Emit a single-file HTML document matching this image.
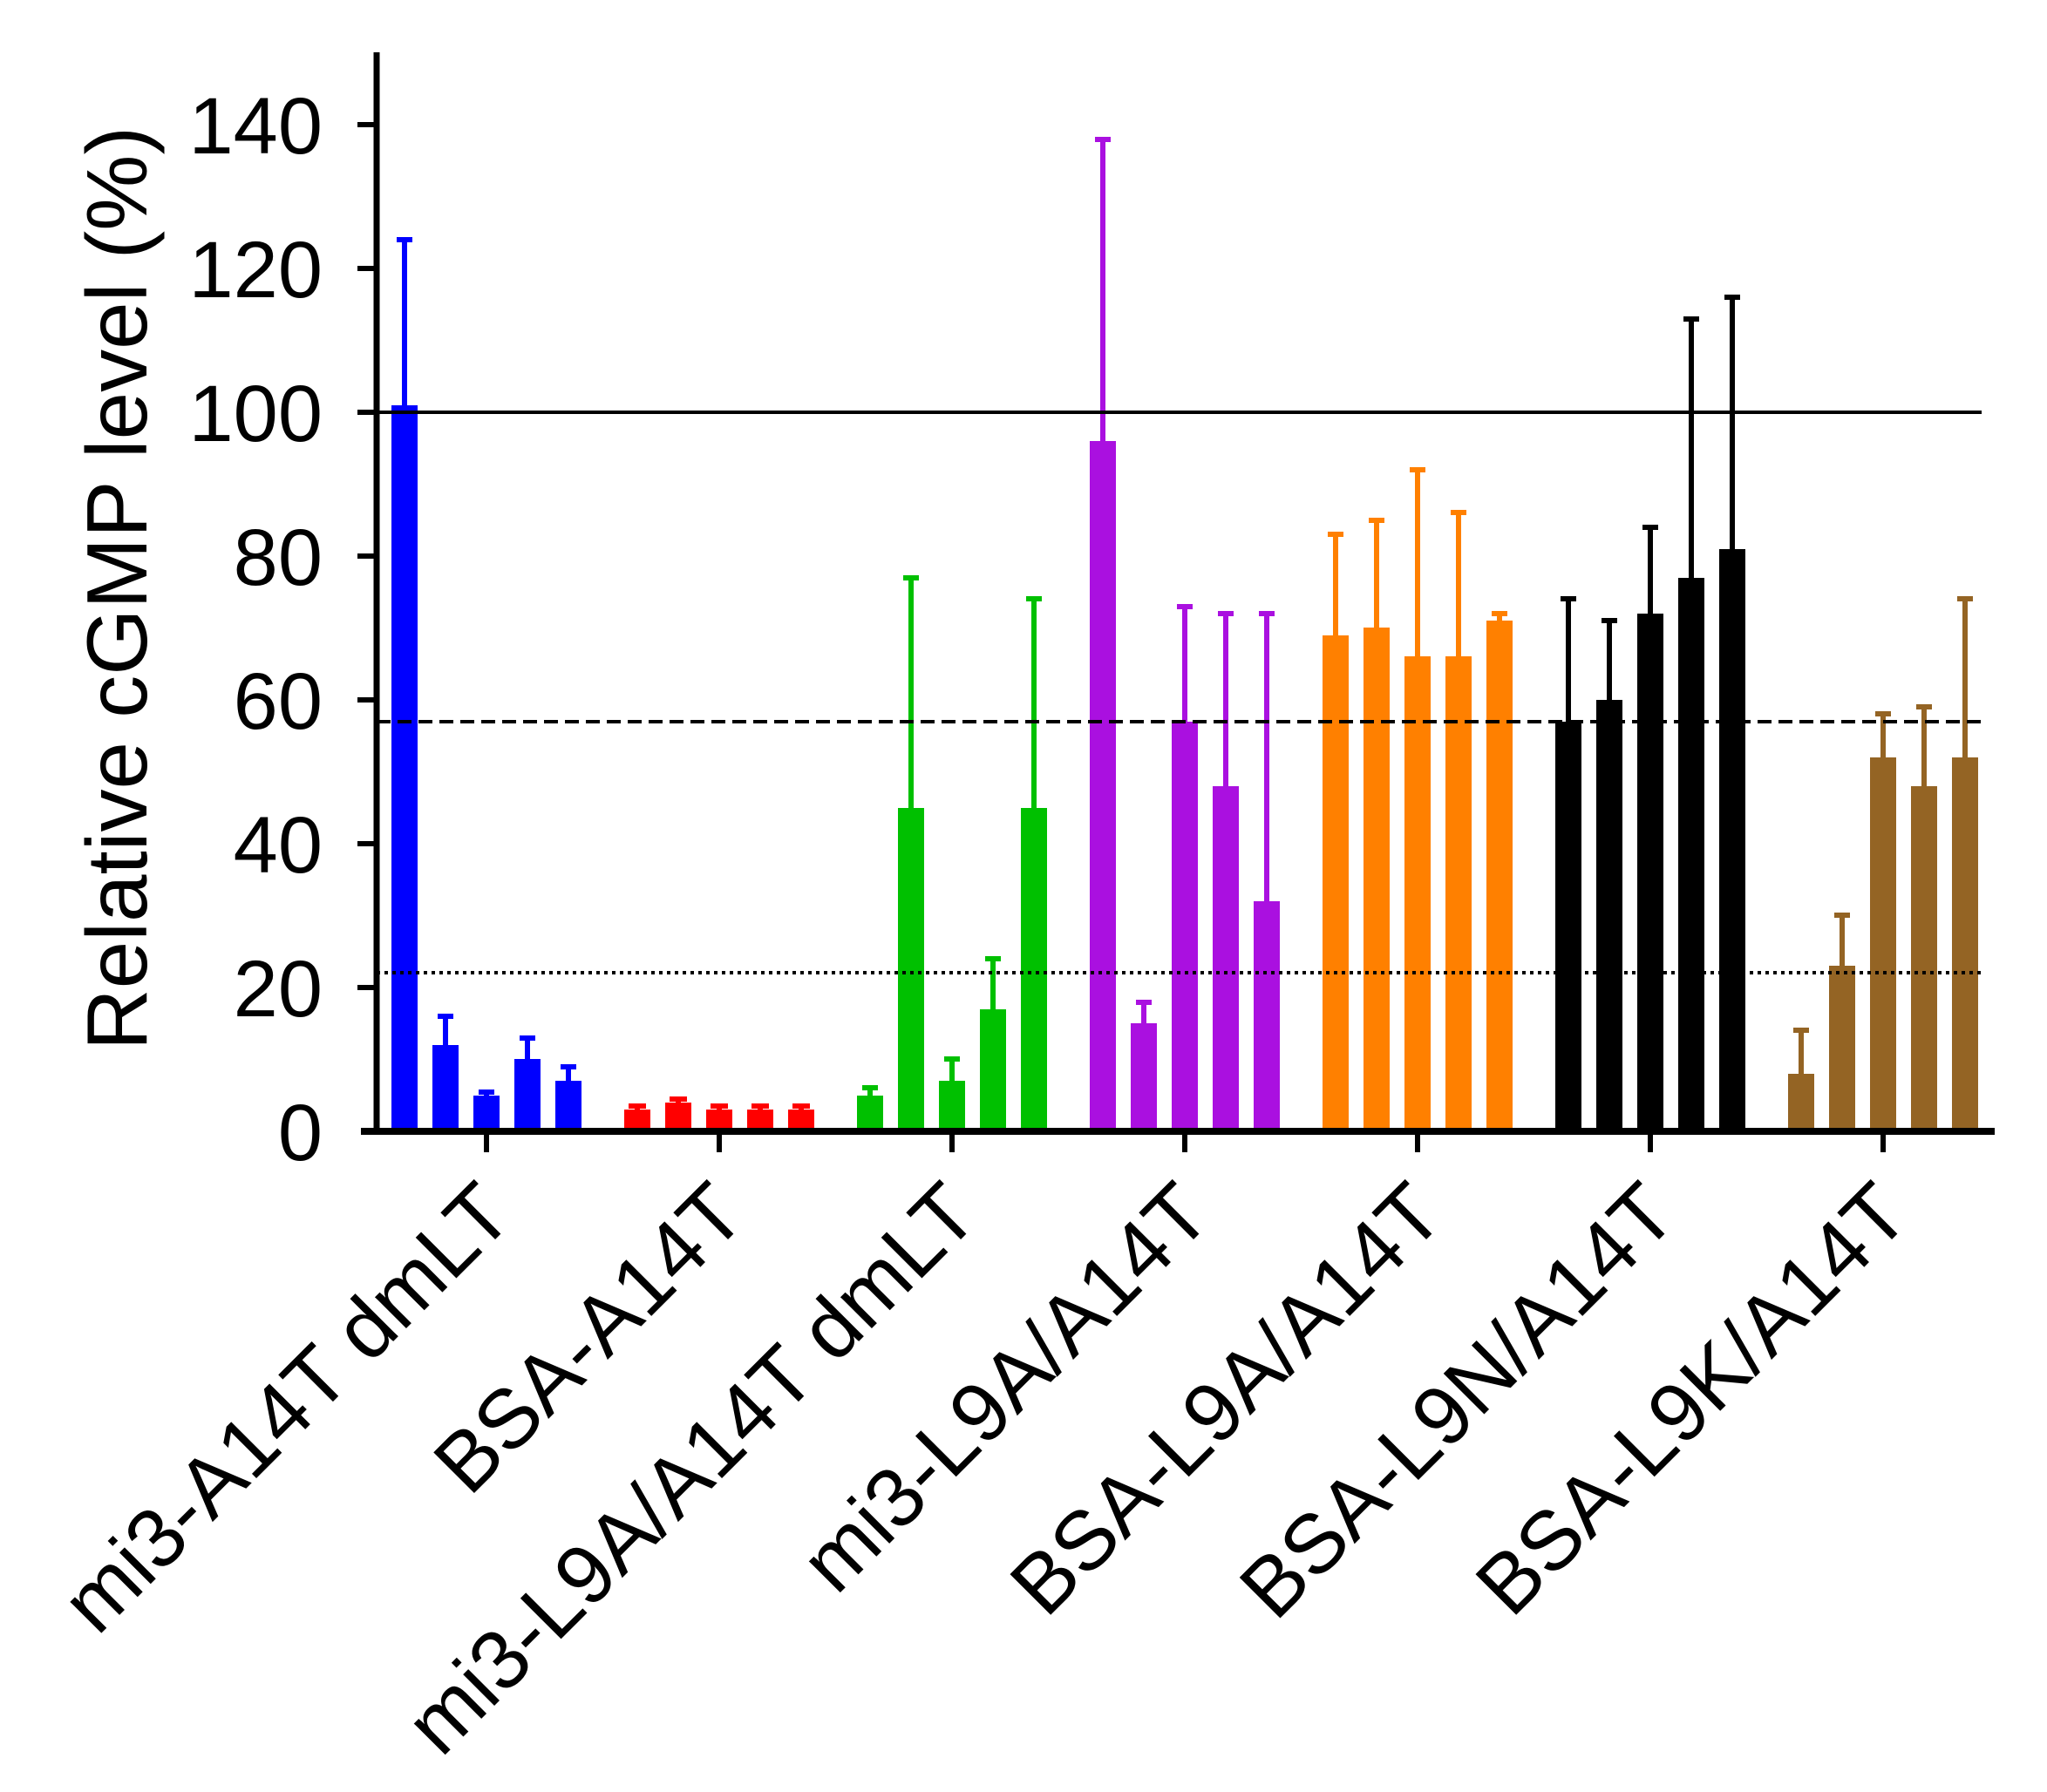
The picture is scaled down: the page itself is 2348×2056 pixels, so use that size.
<!DOCTYPE html>
<html><head><meta charset="utf-8"><style>html,body{margin:0;padding:0;background:#fff}svg{display:block}</style></head>
<body>
<svg width="2348" height="2056" viewBox="0 0 2348 2056" xmlns="http://www.w3.org/2000/svg" font-family="Liberation Sans, Arial, sans-serif">
<rect width="2348" height="2056" fill="#fff"/>
<!-- blue -->
<g fill="#0000ff" stroke="#0000ff">
<rect x="449" y="465" width="30" height="833" stroke="none"/><path d="M464 465V275M455 275H473" stroke-width="6"/>
<rect x="496" y="1199" width="30" height="99" stroke="none"/><path d="M511 1199V1166M502 1166H520" stroke-width="6"/>
<rect x="543" y="1257" width="30" height="41" stroke="none"/><path d="M558 1257V1253M549 1253H567" stroke-width="6"/>
<rect x="590" y="1215" width="30" height="83" stroke="none"/><path d="M605 1215V1191M596 1191H614" stroke-width="6"/>
<rect x="637" y="1240" width="30" height="58" stroke="none"/><path d="M652 1240V1224M643 1224H661" stroke-width="6"/>
</g>
<!-- red -->
<g fill="#ff0000" stroke="#ff0000">
<rect x="716" y="1273" width="30" height="25" stroke="none"/><path d="M731 1273V1269M721 1269H741" stroke-width="6"/>
<rect x="763" y="1265" width="30" height="33" stroke="none"/><path d="M778 1265V1261M768 1261H788" stroke-width="6"/>
<rect x="810" y="1273" width="30" height="25" stroke="none"/><path d="M825 1273V1269M815 1269H835" stroke-width="6"/>
<rect x="857" y="1273" width="30" height="25" stroke="none"/><path d="M872 1273V1269M862 1269H882" stroke-width="6"/>
<rect x="904" y="1273" width="30" height="25" stroke="none"/><path d="M919 1273V1269M909 1269H929" stroke-width="6"/>
</g>
<!-- green -->
<g fill="#00c000" stroke="#00c000">
<rect x="983" y="1257" width="30" height="41" stroke="none"/><path d="M998 1257V1248M989 1248H1007" stroke-width="6"/>
<rect x="1030" y="927" width="30" height="371" stroke="none"/><path d="M1045 927V663M1036 663H1054" stroke-width="6"/>
<rect x="1077" y="1240" width="30" height="58" stroke="none"/><path d="M1092 1240V1215M1083 1215H1101" stroke-width="6"/>
<rect x="1124" y="1158" width="30" height="140" stroke="none"/><path d="M1139 1158V1100M1130 1100H1148" stroke-width="6"/>
<rect x="1171" y="927" width="30" height="371" stroke="none"/><path d="M1186 927V687M1177 687H1195" stroke-width="6"/>
</g>
<!-- purple -->
<g fill="#aa10e0" stroke="#aa10e0">
<rect x="1250" y="506" width="30" height="792" stroke="none"/><path d="M1265 506V160M1256 160H1274" stroke-width="6"/>
<rect x="1297" y="1174" width="30" height="124" stroke="none"/><path d="M1312 1174V1150M1303 1150H1321" stroke-width="6"/>
<rect x="1344" y="828" width="30" height="470" stroke="none"/><path d="M1359 828V696M1350 696H1368" stroke-width="6"/>
<rect x="1391" y="902" width="30" height="396" stroke="none"/><path d="M1406 902V704M1397 704H1415" stroke-width="6"/>
<rect x="1438" y="1034" width="30" height="264" stroke="none"/><path d="M1453 1034V704M1444 704H1462" stroke-width="6"/>
</g>
<!-- orange -->
<g fill="#ff8000" stroke="#ff8000">
<rect x="1517" y="729" width="30" height="569" stroke="none"/><path d="M1532 729V613M1523 613H1541" stroke-width="6"/>
<rect x="1564" y="720" width="30" height="578" stroke="none"/><path d="M1579 720V597M1570 597H1588" stroke-width="6"/>
<rect x="1611" y="753" width="30" height="545" stroke="none"/><path d="M1626 753V539M1617 539H1635" stroke-width="6"/>
<rect x="1658" y="753" width="30" height="545" stroke="none"/><path d="M1673 753V588M1664 588H1682" stroke-width="6"/>
<rect x="1705" y="712" width="30" height="586" stroke="none"/><path d="M1720 712V704M1711 704H1729" stroke-width="6"/>
</g>
<!-- black -->
<g fill="#000" stroke="#000">
<rect x="1784" y="828" width="30" height="470" stroke="none"/><path d="M1799 828V687M1790 687H1808" stroke-width="6"/>
<rect x="1831" y="803" width="30" height="495" stroke="none"/><path d="M1846 803V712M1837 712H1855" stroke-width="6"/>
<rect x="1878" y="704" width="30" height="594" stroke="none"/><path d="M1893 704V605M1884 605H1902" stroke-width="6"/>
<rect x="1925" y="663" width="30" height="635" stroke="none"/><path d="M1940 663V366M1931 366H1949" stroke-width="6"/>
<rect x="1972" y="630" width="30" height="668" stroke="none"/><path d="M1987 630V341M1978 341H1996" stroke-width="6"/>
</g>
<!-- brown -->
<g fill="#946424" stroke="#946424">
<rect x="2051" y="1232" width="30" height="66" stroke="none"/><path d="M2066 1232V1182M2057 1182H2075" stroke-width="6"/>
<rect x="2098" y="1108" width="30" height="190" stroke="none"/><path d="M2113 1108V1050M2104 1050H2122" stroke-width="6"/>
<rect x="2145" y="869" width="30" height="429" stroke="none"/><path d="M2160 869V819M2151 819H2169" stroke-width="6"/>
<rect x="2192" y="902" width="30" height="396" stroke="none"/><path d="M2207 902V811M2198 811H2216" stroke-width="6"/>
<rect x="2239" y="869" width="30" height="429" stroke="none"/><path d="M2254 869V687M2245 687H2263" stroke-width="6"/>
</g>
<!-- reference lines -->
<line x1="432" y1="473" x2="2273" y2="473" stroke="#000" stroke-width="4"/>
<line x1="432" y1="828" x2="2273" y2="828" stroke="#000" stroke-width="4" stroke-dasharray="16,8"/>
<line x1="432" y1="1116" x2="2273" y2="1116" stroke="#000" stroke-width="4" stroke-dasharray="4,5"/>
<!-- axes -->
<line x1="432" y1="60" x2="432" y2="1301" stroke="#000" stroke-width="7"/>
<line x1="414" y1="1298" x2="2288" y2="1298" stroke="#000" stroke-width="8"/>
<g stroke="#000" stroke-width="6">
<line x1="410" y1="143" x2="432" y2="143"/><line x1="410" y1="308" x2="432" y2="308"/>
<line x1="410" y1="473" x2="432" y2="473"/><line x1="410" y1="638" x2="432" y2="638"/>
<line x1="410" y1="803" x2="432" y2="803"/><line x1="410" y1="968" x2="432" y2="968"/>
<line x1="410" y1="1133" x2="432" y2="1133"/>
<line x1="558" y1="1298" x2="558" y2="1322"/><line x1="825" y1="1298" x2="825" y2="1322"/>
<line x1="1092" y1="1298" x2="1092" y2="1322"/><line x1="1359" y1="1298" x2="1359" y2="1322"/>
<line x1="1626" y1="1298" x2="1626" y2="1322"/><line x1="1893" y1="1298" x2="1893" y2="1322"/>
<line x1="2160" y1="1298" x2="2160" y2="1322"/>
</g>
<g font-size="92" text-anchor="end" fill="#000">
<text x="370" y="176">140</text><text x="370" y="341">120</text><text x="370" y="506">100</text>
<text x="370" y="671">80</text><text x="370" y="836">60</text><text x="370" y="1001">40</text>
<text x="370" y="1166">20</text><text x="370" y="1331">0</text>
</g>
<text transform="translate(168,675) rotate(-90)" font-size="98" text-anchor="middle" fill="#000">Relative cGMP level (%)</text>
<g font-size="96" text-anchor="end" fill="#000">
<text transform="translate(592,1398) rotate(-45)">mi3-A14T dmLT</text>
<text transform="translate(859,1398) rotate(-45)">BSA-A14T</text>
<text transform="translate(1126,1398) rotate(-45)">mi3-L9A/A14T dmLT</text>
<text transform="translate(1393,1398) rotate(-45)">mi3-L9A/A14T</text>
<text transform="translate(1660,1398) rotate(-45)">BSA-L9A/A14T</text>
<text transform="translate(1927,1398) rotate(-45)">BSA-L9N/A14T</text>
<text transform="translate(2194,1398) rotate(-45)">BSA-L9K/A14T</text>
</g>
</svg>
</body></html>
